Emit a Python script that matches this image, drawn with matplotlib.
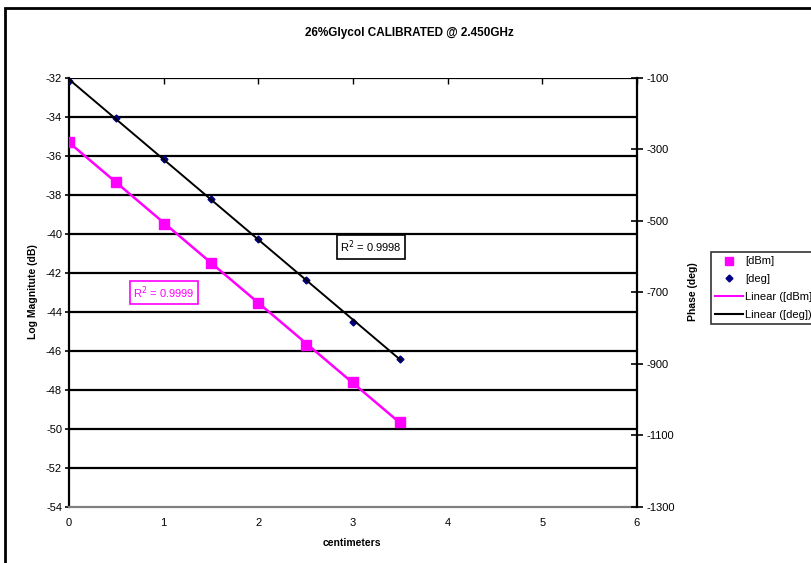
import numpy as np
import matplotlib
matplotlib.use('Agg')
import matplotlib.pyplot as plt
from matplotlib.patches import Rectangle
from matplotlib.lines import Line2D

plt.rcParams['font.family'] = ['Liberation Sans', 'DejaVu Sans']
plt.rcParams['axes.unicode_minus'] = False

###############################################################################
#### data
###############################################################################
cm      = [0.0, 0.5, 1.0, 1.5, 2.0, 2.5, 3.0, 3.5]
mag_dbm = [-35.26, -37.31, -39.48, -41.50, -43.56, -45.70, -47.58, -49.64]
phase   = [-107, -213, -327, -439, -551, -664, -782, -885]

title    = '26%Glycol CALIBRATED @ 2.450GHz'
xlabel   = 'centimeters'
ylabel_l = 'Log Magnitute (dB)'
ylabel_r = 'Phase (deg)'
r2_mag   = 'R$^2$ = 0.9999'
r2_phase = 'R$^2$ = 0.9998'
labels   = ['[dBm]', '[deg]', 'Linear ([dBm])', 'Linear ([deg])']

W, H = 812, 563
mag_col = '#FF00FF'
deg_col = '#000080'

###############################################################################
#### figure
###############################################################################
fig = plt.figure(figsize=(W / 100, H / 100), dpi=100)
# chart area frame (runs off the right and bottom edges like the reference)
fig.patches.append(Rectangle((5 / W, -0.1), 1.2, 1 - 8 / H + 0.1, transform=fig.transFigure,
                             fill=False, ec='black', lw=2, zorder=0))

x0, x1, ytop, ybot = 69, 637, 78, 507
ax = fig.add_axes([x0 / W, 1 - ybot / H, (x1 - x0) / W, (ybot - ytop) / H])
ax2 = ax.twinx()

ax.set_xlim(0, 6)
ax.set_ylim(-54, -32)
ax2.set_ylim(-1300, -100)
ax.set_xticks(range(7))
ax.set_yticks(np.arange(-54, -31, 2))
ax2.set_yticks(np.arange(-1300, -99, 200))

for yv in np.arange(-52, -31, 2):
    ax.axhline(yv, color='black', lw=1.6, zorder=1)

for s in ['top', 'right']:
    ax.spines[s].set_visible(False)
for s in ['top', 'left', 'bottom']:
    ax2.spines[s].set_visible(False)
ax.spines['left'].set_linewidth(1.6)
ax.spines['bottom'].set_color('#808080')
ax.spines['bottom'].set_linewidth(1.6)
ax2.spines['right'].set_linewidth(1.6)

ax.tick_params(axis='x', bottom=False, top=True, direction='in', length=4, width=1,
               labelsize=8, pad=8, labelbottom=True, labeltop=False)
ax.tick_params(axis='y', direction='out', length=3, width=1.2, labelsize=8, pad=2)
ax2.tick_params(axis='y', direction='inout', length=8, width=1.2, labelsize=8, pad=3)

# series + linear trendlines
fit_m = np.polyfit(cm, mag_dbm, 1)
fit_p = np.polyfit(cm, phase, 1)
xs = np.array([cm[0], cm[-1]])

ax.plot(xs, np.polyval(fit_m, xs), color=mag_col, lw=1.8, zorder=3)
ax.plot(cm, mag_dbm, ls='none', marker='s', ms=6.5, color=mag_col, zorder=4)
ax2.plot(cm, phase, ls='none', marker='D', ms=3.5, color=deg_col, zorder=3)
ax2.plot(xs, np.polyval(fit_p, xs), color='black', lw=1.4, zorder=4)

ax.text(1.0, -43.0, r2_mag, color=mag_col, fontsize=8, ha='center', va='center',
        bbox=dict(boxstyle='square,pad=0.3', fc='white', ec=mag_col, lw=1.2), zorder=6)
ax2.text(3.19, -573, r2_phase, color='black', fontsize=8, ha='center', va='center',
         bbox=dict(boxstyle='square,pad=0.3', fc='white', ec='black', lw=1.2), zorder=6)

fig.text(409 / W, 1 - 33 / H, title, ha='center', va='center', fontsize=8.5, fontweight='bold')
fig.text(352 / W, 1 - 543 / H, xlabel, ha='center', va='center', fontsize=7.5, fontweight='bold')
fig.text(33 / W, 1 - 292 / H, ylabel_l, ha='center', va='center', rotation=90,
         fontsize=7.5, fontweight='bold')
fig.text(693 / W, 1 - 292 / H, ylabel_r, ha='center', va='center', rotation=90,
         fontsize=7.5, fontweight='bold')

handles = [
    Line2D([], [], ls='none', marker='s', ms=5.5, color=mag_col),
    Line2D([], [], ls='none', marker='D', ms=3.5, color=deg_col),
    Line2D([], [], color=mag_col, lw=1.5),
    Line2D([], [], color='black', lw=1.5),
]
leg = fig.legend(handles, labels, loc='upper left', bbox_to_anchor=(711 / W, 1 - 252 / H),
                 fontsize=8, frameon=True, fancybox=False, edgecolor='black',
                 handlelength=2.5, handletextpad=0.15, borderpad=0.4, labelspacing=0.7,
                 borderaxespad=0)
leg.get_frame().set_linewidth(1.2)

plt.savefig('out.png', dpi=100)
